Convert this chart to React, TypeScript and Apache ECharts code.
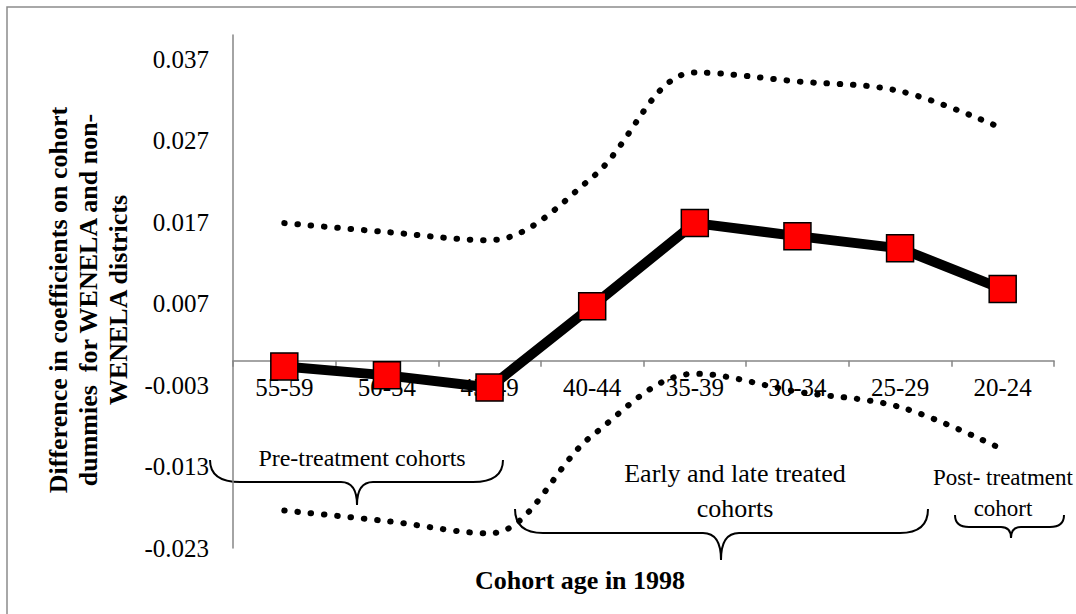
import React, { useEffect, useRef } from "react";
import * as echarts from "echarts";

const categories = ["55-59", "50-54", "45-49", "40-44", "35-39", "30-34", "25-29", "20-24"];
const difference = [-0.0007, -0.0018, -0.0033, 0.0067, 0.0169, 0.0153, 0.0138, 0.0088];
const upperBound = [0.0169, 0.0158, 0.0148, 0.0225, 0.0354, 0.0343, 0.0331, 0.0285];
const lowerBound = [-0.0184, -0.0197, -0.0212, -0.0092, -0.0016, -0.0038, -0.0057, -0.0109];
const yMin = -0.023;
const yMax = 0.04;
const yStep = 0.01;
const yTitle = ["Difference in coefficients on cohort", "dummies  for WENELA and non-", "WENELA districts"];
const xTitle = "Cohort age in 1998";
const groupLabels = ["Pre-treatment cohorts", "Early and late treated\ncohorts", "Post- treatment\ncohort"];

const FONT = "'Liberation Serif', 'Times New Roman', serif";
const GRID_TOP = 35;
const GRID_BOTTOM = 66;
const CHART_H = 614;

function bracePath(x0: number, x1: number, yEnd: number, yMid: number, xTip: number, yTip: number, r: number, r2: number) {
  return `M${x0},${yEnd} Q${x0},${yMid} ${x0 + r},${yMid} L${xTip - r2},${yMid} Q${xTip},${yMid} ${xTip},${yTip} Q${xTip},${yMid} ${xTip + r2},${yMid} L${x1 - r},${yMid} Q${x1},${yMid} ${x1},${yEnd}`;
}

echarts.graphic.registerShape("braceA", echarts.graphic.extendPath(bracePath(210, 503, 460, 482, 357, 505, 30, 16), {}) as any);
echarts.graphic.registerShape("braceB", echarts.graphic.extendPath(bracePath(515, 928, 509, 533, 721, 560, 28, 18), {}) as any);
echarts.graphic.registerShape("braceC", echarts.graphic.extendPath(bracePath(955, 1064, 515, 527, 1011, 538, 14, 10), {}) as any);

export default function App() {
  const ref = useRef<HTMLDivElement>(null);
  useEffect(() => {
    if (!ref.current) return;
    const chart = echarts.init(ref.current, null, { renderer: "svg" });
    const dotted = {
      color: "#000",
      width: 6,
      type: [0.5, 12.8] as any,
      cap: "round" as const,
    };
    const braceStyle = { stroke: "#000", fill: "none", lineWidth: 2 };
    const plotH = CHART_H - GRID_TOP - GRID_BOTTOM;
    const zeroOffset = -((0 - yMin) / (yMax - yMin)) * plotH;
    chart.setOption({
      animation: false,
      backgroundColor: "#fff",
      grid: { left: 233, right: 22, top: GRID_TOP, bottom: GRID_BOTTOM, containLabel: false },
      xAxis: {
        type: "category",
        data: categories,
        boundaryGap: true,
        offset: zeroOffset,
        axisLine: { onZero: false, lineStyle: { color: "#868686", width: 1.5 } },
        axisTick: { show: true, length: 6, lineStyle: { color: "#868686", width: 1.5 } },
        axisLabel: { color: "#000", fontSize: 25, fontFamily: FONT, margin: 14, interval: 0 },
        splitLine: { show: false },
      },
      yAxis: {
        type: "value",
        min: yMin,
        max: yMax,
        interval: yStep,
        axisLine: { show: true, lineStyle: { color: "#868686", width: 1.5 } },
        axisTick: { show: false },
        splitLine: { show: false },
        axisLabel: {
          color: "#000",
          fontSize: 25,
          fontFamily: FONT,
          margin: 24,
          formatter: (v: number) => {
            const k = (v - yMin) / yStep;
            if (Math.abs(k - Math.round(k)) > 1e-6) return "";
            return v.toFixed(3);
          },
        },
      },
      series: [
        { type: "line", data: upperBound, smooth: 0.35, symbol: "none", lineStyle: dotted, z: 3 },
        { type: "line", data: lowerBound, smooth: 0.35, symbol: "none", lineStyle: dotted, z: 3 },
        {
          type: "line",
          data: difference,
          symbol: "rect",
          symbolSize: 27,
          itemStyle: { color: "#ff0000", borderColor: "#000", borderWidth: 1.5 },
          lineStyle: { color: "#000", width: 10 },
          z: 4,
        },
      ],
      graphic: [
        { type: "rect", shape: { x: 7, y: 7, width: 1100, height: 700 }, style: { fill: "none", stroke: "#8c8c8c", lineWidth: 1.5 }, silent: true, z: -1 },
        {
          type: "text",
          x: 88,
          y: 300,
          rotation: Math.PI / 2,
          style: {
            text: yTitle.join("\n"),
            font: `bold 26px ${FONT}`,
            fill: "#000",
            align: "center",
            verticalAlign: "middle",
            lineHeight: 30,
          },
        },
        {
          type: "text",
          x: 580,
          y: 580,
          style: { text: xTitle, font: `bold 26px ${FONT}`, fill: "#000", align: "center", verticalAlign: "middle" },
        },
        { type: "braceA", style: braceStyle },
        { type: "braceB", style: braceStyle },
        { type: "braceC", style: braceStyle },
        {
          type: "text",
          x: 362,
          y: 458,
          style: { text: groupLabels[0], font: `24px ${FONT}`, fill: "#000", align: "center", verticalAlign: "middle" },
        },
        {
          type: "text",
          x: 735,
          y: 491,
          style: { text: groupLabels[1], font: `26px ${FONT}`, fill: "#000", align: "center", verticalAlign: "middle", lineHeight: 35 },
        },
        {
          type: "text",
          x: 1003,
          y: 493,
          style: { text: groupLabels[2], font: `23px ${FONT}`, fill: "#000", align: "center", verticalAlign: "middle", lineHeight: 31 },
        },
      ],
    });
    return () => chart.dispose();
  }, []);
  return <div ref={ref} style={{ position: "fixed", left: 0, top: 0, width: 1076, height: 614 }} />;
}
